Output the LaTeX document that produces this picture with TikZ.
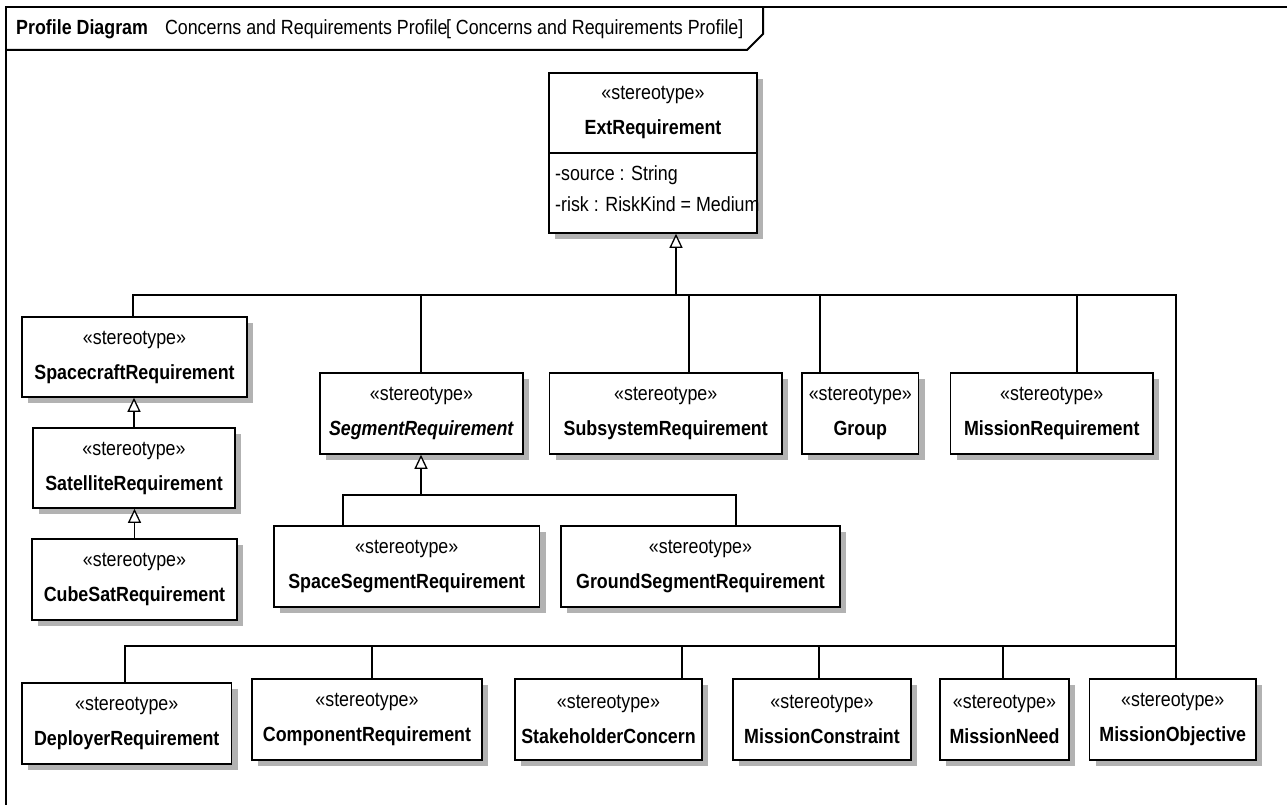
\documentclass[tikz,border=0pt]{standalone}
\usepackage{fontspec}
\setmainfont{Liberation Sans}[FakeStretch=0.87]
\usepackage{tikz}
\usetikzlibrary{arrows.meta, shadows, positioning}
\usepackage{xcolor}
\colorlet{myshadow}{black!30}
\newcommand{\boxfont}{\fontsize{20.5pt}{35pt}\selectfont}
\newcommand{\stereo}[1]{«stereotype»\\\textbf{#1}}
\tikzset{
  >=latex, % pointe par défaut
  stereo box/.style={rectangle, draw=black, line width=1.6pt, fill=white, inner sep=2pt, align=center, font=\boxfont,
    drop shadow={shadow xshift=6pt, shadow yshift=-6pt, fill=myshadow, opacity=1}},
  connect/.style={line width=1.3pt, black},
  connect gen/.style={connect, -{Triangle[length=14pt, width=13pt, fill=white]}}
}

\begin{document}
\begin{tikzpicture}[x=1pt, y=-1pt]

% Styles
\tikzstyle{frame line} = [line width=2pt, black]
\tikzstyle{plain text} = [inner sep=0pt, font=\boxfont]

\useasboundingbox[fill=white] (0,0) rectangle (1287,805);

% Cadre du diagramme
\draw[frame line] (6,805) -- (6,7) -- (1287,7);
\draw[frame line] (6,50) -- (747,50) -- (763,34) -- (763,7);
\node[plain text, anchor=base west] (title) at (16,35)
  {\textbf{Profile Diagram}\hspace{17pt}Concerns and Requirements Profile\kern-1.5pt[ Concerns and Requirements Profile]};

% Stéréotype racine
\node[stereo box, minimum width=208pt, minimum height=80pt] (ExtReq) at (653,113) {\stereo{ExtRequirement}};
\node[stereo box, minimum width=208pt, minimum height=80pt] (ExtReq-attr) at (653,193) {};
\node[plain text, anchor=west] (attr-1) at (555,175) {-source : String};
\node[plain text, anchor=west] (attr-2) at (555,204) {-risk : RiskKind = Medium};

% Colonne de gauche
\node[stereo box, minimum width=225pt, minimum height=80pt] (Spacecraft) at (134.5,357) {\stereo{SpacecraftRequirement}};
\node[stereo box, minimum width=202pt, minimum height=80pt] (Satellite) at (134,468) {\stereo{SatelliteRequirement}};
\node[stereo box, minimum width=205pt, minimum height=81pt] (CubeSat) at (134.5,579.5) {\stereo{CubeSatRequirement}};

% Rangée du milieu
\node[stereo box, minimum width=203pt, minimum height=81pt] (Segment) at (421.5,413.5)
  {«stereotype»\\\textbf{\textit{SegmentRequirement}}};
\foreach \nd/\cx/\w/\lbl in {Subsystem/665.75/232.5pt/SubsystemRequirement,
                             Group/860.3/116.6pt/Group,
                             MissionReq/1051.75/202.5pt/MissionRequirement}
  \node[stereo box, minimum width=\w, minimum height=81pt] (\nd) at (\cx,413.5) {\stereo{\lbl}};

% Segments
\node[stereo box, minimum width=265.5pt, minimum height=81pt] (SpaceSeg) at (406.75,566.5) {\stereo{SpaceSegmentRequirement}};
\node[stereo box, minimum width=279pt, minimum height=81pt] (GroundSeg) at (700.5,566.5) {\stereo{GroundSegmentRequirement}};

% Rangée du bas
\foreach \nd/\cx/\cy/\w/\lbl in {Deployer/126.75/723.5/209.5pt/DeployerRequirement,
                                 Component/367/719.5/230pt/ComponentRequirement,
                                 Stakeholder/608.5/719.5/187pt/StakeholderConcern,
                                 MissionConstraint/822/719.5/178pt/MissionConstraint,
                                 MissionNeed/1004.5/719.5/129pt/MissionNeed,
                                 MissionObjective/1172.75/719.5/166.5pt/MissionObjective}
  \node[stereo box, minimum width=\w, minimum height=81pt] (\nd) at (\cx,\cy) {\stereo{\lbl}};

% Jonctions
\coordinate (jT) at (676,295);
\coordinate (jR) at (1176,295);
\coordinate (jB) at (1176,646);
\coordinate (jS) at (421,495);

% Généralisations vers ExtRequirement
\draw[connect gen] (jT) -- (jT |- ExtReq-attr.south);
\foreach \nd/\xc in {Spacecraft/133, Segment/421, Subsystem/689, Group/820, MissionReq/1077}
  \draw[connect] (\xc,0 |- \nd.north) |- (jT);
\foreach \nd/\xc in {Deployer/125, Component/372, Stakeholder/682, MissionConstraint/819, MissionNeed/1003, MissionObjective/1176}
  \draw[connect] (\xc,0 |- \nd.north) |- (jB) -- (jR) -- (jT);

% Chaîne de gauche
\draw[connect gen] (Satellite.north) -- (Satellite.north |- Spacecraft.south);
\draw[connect gen] (CubeSat.north) -- (CubeSat.north |- Satellite.south);

% Segments
\draw[connect gen] (jS) -- (jS |- Segment.south);
\foreach \nd/\xc in {SpaceSeg/343, GroundSeg/736}
  \draw[connect] (\xc,0 |- \nd.north) |- (jS);

\end{tikzpicture}
\end{document}
